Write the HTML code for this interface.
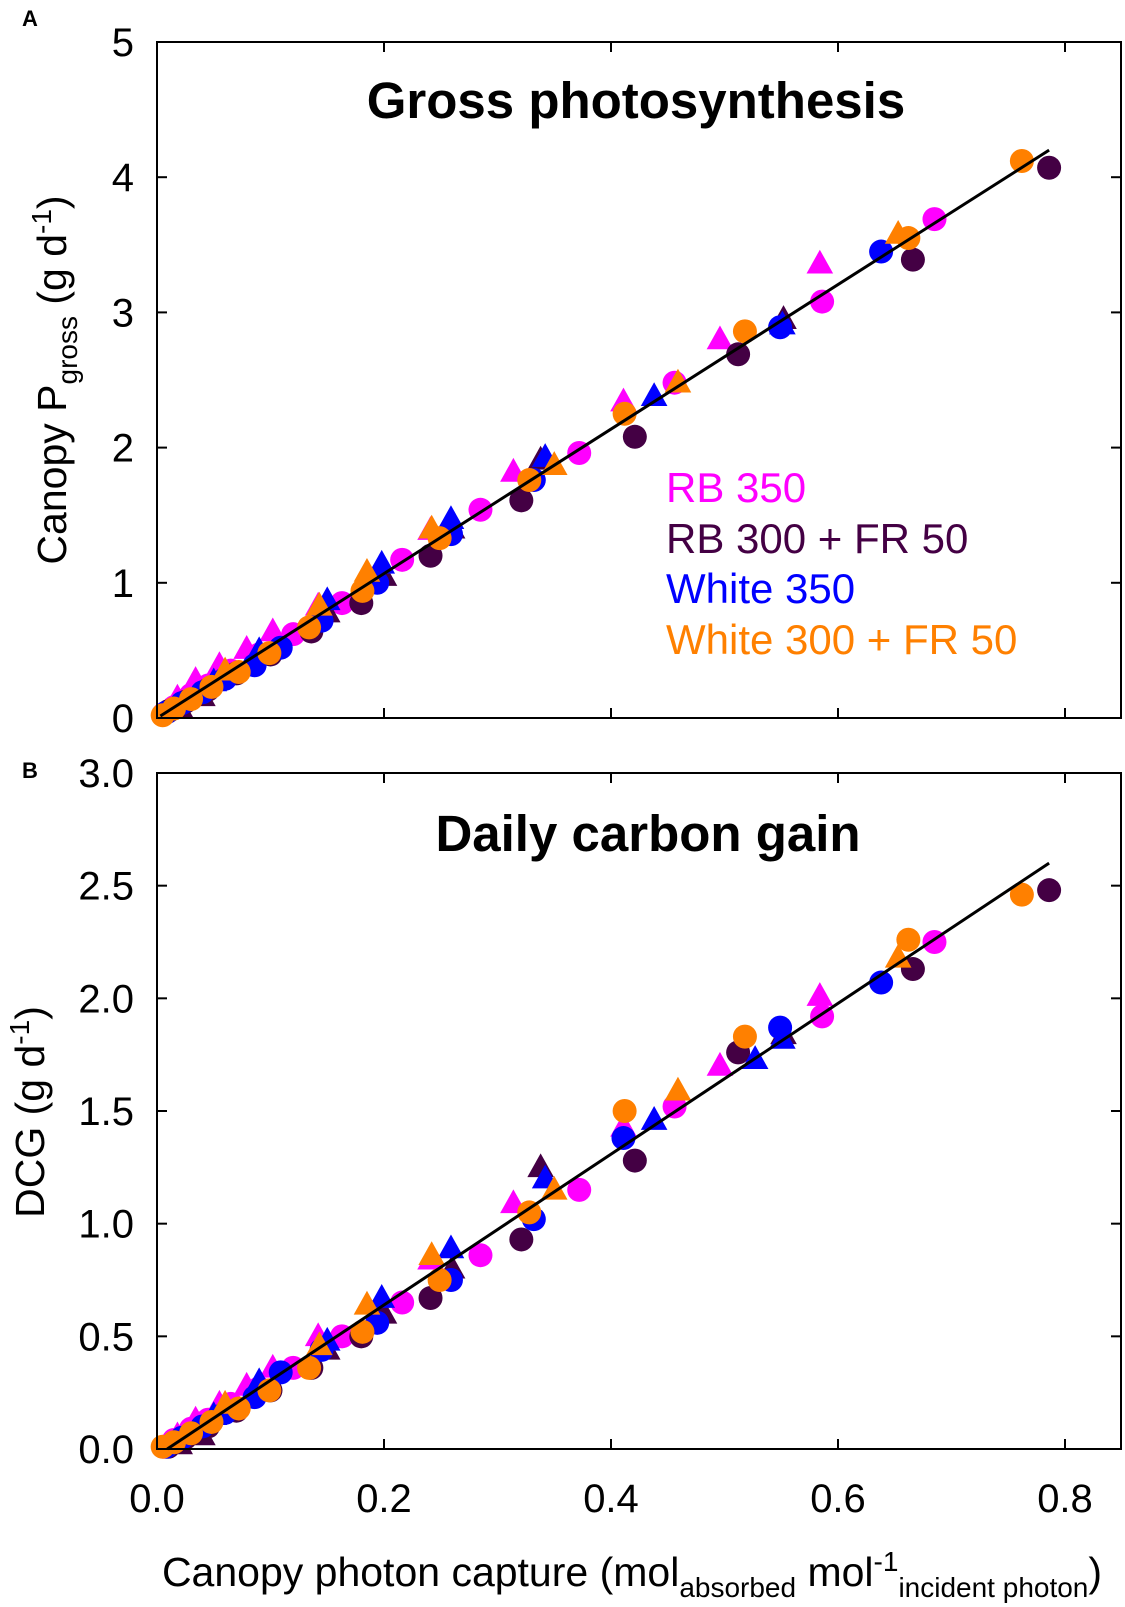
<!DOCTYPE html>
<html><head><meta charset="utf-8"><style>
html,body{margin:0;padding:0;background:#fff;}
svg{display:block;font-family:"Liberation Sans",Arial,sans-serif;}
</style></head><body>
<svg id="chart" width="1125" height="1607" viewBox="0 0 1125 1607" xmlns="http://www.w3.org/2000/svg">
<text x="22" y="26" font-size="22" font-weight="bold">A</text>
<text x="22" y="778" font-size="22" font-weight="bold">B</text>
<text x="636" y="118" font-size="51" font-weight="bold" text-anchor="middle">Gross photosynthesis</text>
<text x="648" y="851" font-size="51" font-weight="bold" text-anchor="middle">Daily carbon gain</text>
<text transform="translate(66,380) rotate(-90)" font-size="41" text-anchor="middle">Canopy P<tspan font-size="28" dy="11">gross</tspan><tspan dy="-11"> (g d</tspan><tspan font-size="28" dy="-15">-1</tspan><tspan dy="15">)</tspan></text>
<text transform="translate(44,1112) rotate(-90)" font-size="41" text-anchor="middle">DCG (g d<tspan font-size="28" dy="-15">-1</tspan><tspan dy="15">)</tspan></text>
<text x="632" y="1586" font-size="41" text-anchor="middle">Canopy photon capture (mol<tspan font-size="28" dy="11">absorbed</tspan><tspan dy="-11"> mol</tspan><tspan font-size="28" dy="-15">-1</tspan><tspan font-size="28" dy="26">incident photon</tspan><tspan dy="-11">)</tspan></text>
<g font-size="42">
<text x="666" y="502" fill="#ff00ff">RB 350</text>
<text x="666" y="553" fill="#440044">RB 300 + FR 50</text>
<text x="666" y="603" fill="#0000ff">White 350</text>
<text x="666" y="654" fill="#ff8000">White 300 + FR 50</text>
</g>
<g id="plots"></g>
</svg>
<script>
const colors=["#ff00ff","#440044","#0000ff","#ff8000"];
const seriesNames=["rb350","rb300-fr50","white350","white300-fr50"];
const xTicks=[0,0.2,0.4,0.6,0.8];
const xTickLabels=["0.0","0.2","0.4","0.6","0.8"];
const aYTicks=[0,1,2,3,4,5];
const aYTickLabels=["0","1","2","3","4","5"];
const bYTicks=[0,0.5,1,1.5,2,2.5,3];
const bYTickLabels=["0.0","0.5","1.0","1.5","2.0","2.5","3.0"];
const aCircles=[
 [[.685,3.69],[.586,3.08],[.456,2.48],[.372,1.96],[.285,1.54],[.216,1.17],[.163,.85],[.12,.62],[.09,.47],[.065,.35],[.045,.24],[.03,.17],[.015,.08],[.006,.03]],
 [[.786,4.07],[.666,3.39],[.512,2.69],[.421,2.08],[.321,1.61],[.241,1.20],[.180,.85],[.136,.64],[.1,.47],[.07,.33],[.045,.21],[.025,.12],[.01,.05]],
 [[.638,3.45],[.549,2.89],[.332,1.76],[.259,1.36],[.194,1.0],[.145,.72],[.109,.52],[.086,.39],[.06,.29],[.04,.19],[.022,.11],[.008,.04]],
 [[.762,4.12],[.662,3.55],[.518,2.86],[.412,2.25],[.328,1.76],[.249,1.33],[.181,.94],[.134,.67],[.099,.48],[.072,.34],[.048,.23],[.03,.14],[.015,.07],[.005,.02]]
];
const aTriangles=[
 [[.584,3.36],[.496,2.80],[.411,2.34],[.314,1.82],[.241,1.39],[.142,.83],[.102,.64],[.079,.51],[.055,.39],[.034,.28],[.018,.15]],
 [[.552,2.95],[.338,1.91],[.26,1.4],[.2,1.05],[.15,.78],[.04,.16],[.02,.08]],
 [[.551,2.91],[.438,2.38],[.342,1.93],[.259,1.47],[.198,1.14],[.150,.87],[.09,.5],[.05,.27]],
 [[.653,3.58],[.459,2.48],[.350,1.87],[.242,1.40],[.185,1.08],[.143,.83],[.06,.35]]
];
const bCircles=[
 [[.685,2.25],[.586,1.92],[.456,1.52],[.372,1.15],[.285,.86],[.216,.65],[.163,.50],[.12,.36],[.09,.27],[.065,.2],[.045,.13],[.03,.09],[.015,.04],[.006,.01]],
 [[.786,2.48],[.666,2.13],[.512,1.76],[.421,1.28],[.321,.93],[.241,.67],[.180,.50],[.136,.36],[.1,.26],[.07,.17],[.045,.1],[.025,.05],[.01,.01]],
 [[.638,2.07],[.549,1.87],[.411,1.38],[.332,1.02],[.259,.75],[.194,.56],[.145,.44],[.109,.34],[.086,.23],[.06,.16],[.04,.1],[.022,.05],[.008,.01]],
 [[.762,2.46],[.662,2.26],[.518,1.83],[.412,1.50],[.328,1.05],[.249,.75],[.181,.52],[.134,.36],[.099,.26],[.072,.18],[.048,.12],[.03,.07],[.015,.03],[.005,.01]]
];
const bTriangles=[
 [[.584,2.01],[.496,1.70],[.411,1.43],[.314,1.09],[.241,.84],[.142,.5],[.102,.36],[.079,.28],[.055,.2],[.034,.13],[.018,.06]],
 [[.552,1.84],[.338,1.25],[.26,.8],[.2,.6],[.15,.44],[.04,.06],[.02,.02]],
 [[.551,1.82],[.527,1.73],[.438,1.46],[.342,1.20],[.259,.89],[.198,.67],[.150,.48],[.09,.3],[.05,.15]],
 [[.653,2.18],[.459,1.59],[.350,1.15],[.242,.86],[.185,.64],[.143,.46],[.06,.2]]
];
const aFit=[[0.003,0.015],[0.786,4.20]];
const bFit=[[0.009,0.0],[0.786,2.60]];

const NS="http://www.w3.org/2000/svg";
const root=document.getElementById("plots");
const X0=157,X1=1121;
const xs=v=>X0+v*1135;
function mk(tag,attrs,parent){const e=document.createElementNS(NS,tag);for(const k in attrs)e.setAttribute(k,attrs[k]);parent.appendChild(e);return e;}

function panel(key,top,bottom,yMax,yTicks,yLabels,circles,tris,fit){
 const ys=v=>bottom-(v/yMax)*(bottom-top);
 const g=mk("g",{},root);
 
 
 for(let s=0;s<4;s++){
  const sg=mk("g",{fill:colors[s]},g);
  
  
  tris[s].forEach(p=>{
   const cx=xs(p[0]),cy=ys(p[1]),r=14;
   const t=mk("polygon",{points:`${cx},${cy-r} ${cx-r*0.95},${cy+r*0.7} ${cx+r*0.95},${cy+r*0.7}`},sg);
   
   
  });
  circles[s].forEach(p=>{
   const c=mk("circle",{cx:xs(p[0]),cy:ys(p[1]),r:12},sg);
   
   
  });
 }
 const ln=mk("line",{x1:xs(fit[0][0]),y1:ys(fit[0][1]),x2:xs(fit[1][0]),y2:ys(fit[1][1]),stroke:"#000","stroke-width":3},g);
 
 
 const fr=mk("rect",{x:X0,y:top,width:X1-X0,height:bottom-top,fill:"none",stroke:"#000","stroke-width":2},g);
 
 
 yTicks.forEach((v,i)=>{
  const y=ys(v);
  mk("line",{x1:X0,x2:X0+10,y1:y,y2:y,stroke:"#000","stroke-width":2},g);
  mk("line",{x1:X1,x2:X1-10,y1:y,y2:y,stroke:"#000","stroke-width":2},g);
  const t=mk("text",{x:134,y:y+14,"font-size":40,"text-anchor":"end"},g);
  t.textContent=yLabels[i];
  
  
 });
 xTicks.forEach((v,i)=>{
  const x=xs(v);
  mk("line",{x1:x,x2:x,y1:bottom,y2:bottom-10,stroke:"#000","stroke-width":2},g);
  mk("line",{x1:x,x2:x,y1:top,y2:top+10,stroke:"#000","stroke-width":2},g);
  if(key==="b"){
   const t=mk("text",{x:x,y:1512,"font-size":40,"text-anchor":"middle"},g);
   t.textContent=xTickLabels[i];
   
   
  }
 });
}
panel("a",42,718,5,aYTicks,aYTickLabels,aCircles,aTriangles,aFit);
panel("b",773,1449,3,bYTicks,bYTickLabels,bCircles,bTriangles,bFit);
</script>
</body></html>
